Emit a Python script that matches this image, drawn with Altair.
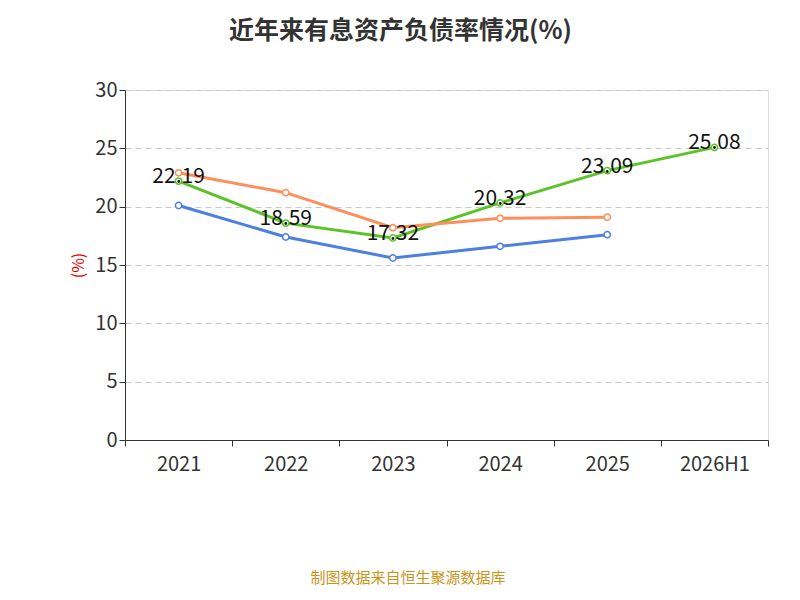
import pandas as pd
import altair as alt

years = ["2021", "2022", "2023", "2024", "2025", "2026H1"]
debt_ratio = [22.19, 18.59, 17.32, 20.32, 23.09, 25.08]
ind_mean = [20.1, 17.4, 15.6, 16.6, 17.6, None]
ind_median = [22.9, 21.2, 18.2, 19.0, 19.1, None]
names = ["有息资产负债率", "行业均值", "行业中位数"]
colors = ["#5cc326", "#4d80e0", "#ff8f5a"]

rows = []
for s, vals in zip(names, [debt_ratio, ind_mean, ind_median]):
    for y, v in zip(years, vals):
        if v is not None:
            rows.append({"year": y, "series": s, "value": v})
df = pd.DataFrame(rows)

x = alt.X("year:N", sort=years, title=None,
          scale=alt.Scale(paddingInner=0, paddingOuter=0),
          axis=alt.Axis(labelAngle=0, tickBand="extent", labelPadding=8, tickSize=6))
y = alt.Y("value:Q", title="(%)", scale=alt.Scale(domain=[0, 30]),
          axis=alt.Axis(values=[0, 5, 10, 15, 20, 25, 30], titleColor="#e00000",
                        titleFontWeight="normal", titlePadding=8,
                        gridDash=[6, 4], gridColor="#c8c8c8", tickSize=6))
scale = alt.Scale(domain=names, range=colors)

base = alt.Chart(df)
lines = base.mark_line(strokeWidth=3).encode(
    x=x, y=y, color=alt.Color("series:N", sort=names, scale=scale, legend=None))
pts = base.mark_point(filled=False, fill="white", fillOpacity=1, size=40, strokeWidth=1.5, opacity=1).encode(
    x=x, y=y,
    color=alt.Color("series:N", sort=names, scale=scale,
                    legend=alt.Legend(title=None, orient="none", direction="horizontal",
                                      legendX=-30, legendY=434, labelFontSize=21, labelColor="#333",
                                      symbolType="circle", symbolSize=380, symbolFillColor="white",
                                      symbolStrokeWidth=2, columnPadding=25, labelLimit=300)))
labels = base.transform_filter(alt.datum.series == names[0]).mark_text(
    fontSize=21, color="#111", dy=-4).encode(x=x, y=y, text=alt.Text("value:Q", format=".2f"))
source = alt.Chart(pd.DataFrame({"t": ["制图数据来自恒生聚源数据库"]})).mark_text(
    fontSize=15, color="#c8951a").encode(x=alt.value(283), y=alt.value(488), text="t:N")

chart = alt.layer(lines, pts, labels, source).properties(
    width=643, height=350,
    autosize=alt.AutoSizeParams(type="none"),
    padding={"left": 117, "top": 82, "right": 24, "bottom": 152},
    title=alt.TitleParams("近年来有息资产负债率情况(%)", fontSize=25, fontWeight="bold",
                          color="#333", anchor="middle", dx=-46, offset=36),
).configure_view(stroke=None).configure(font="Noto Sans CJK SC").configure_axis(
    labelFontSize=20, labelColor="#333", titleFontSize=16,
    domainColor="#333", tickColor="#333")

chart.save("out.html", embed_options={"renderer": "svg", "actions": False})
